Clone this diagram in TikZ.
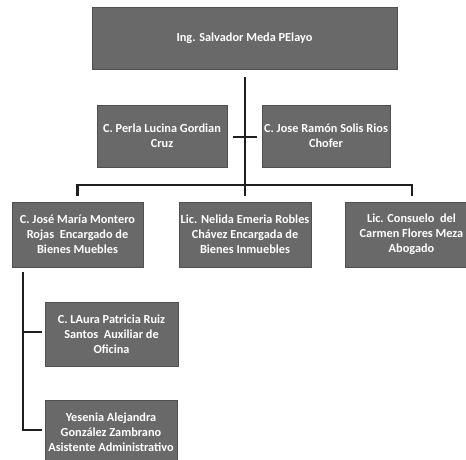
\documentclass[tikz,border=0pt]{standalone}
\usepackage{fontspec}
\setmainfont{Carlito}
\usepackage{tikz}
\definecolor{G}{RGB}{105,105,105}
\definecolor{B}{RGB}{80,80,80}
\definecolor{L}{RGB}{30,30,30}
\tikzset{puesto/.style={draw=B,fill=G,text=white,align=center,inner sep=0pt,
    minimum height=#1,font=\fontsize{12.3}{15}\selectfont\bfseries},
  puesto/.default=63pt,
  linea/.style={draw=L,line width=2.6pt}}
\newcommand{\caja}[6]{\node[puesto=#5,minimum width=#4] (#1) at (#2,#3) {#6};}

\begin{document}
\begin{tikzpicture}[x=1pt,y=-1pt]
\useasboundingbox[fill=white] (0,0) rectangle (466,459);
\caja{dir}{244.5}{38}{305pt}{62pt}{Ing. Salvador Meda PElayo}
\caja{perla}{162}{136}{130pt}{62pt}{C. Perla Lucina Gordian\\Cruz}
\caja{jose}{326}{136}{128pt}{62pt}{C. Jose Ramón Solis Rios\\Chofer}
\caja{montero}{77.5}{234.5}{131pt}{65pt}{C. José María Montero\\Rojas\ \ Encargado de\\Bienes Muebles}
\caja{nelida}{245}{234.5}{132pt}{65pt}{Lic. Nelida Emeria Robles\\Chávez Encargada de\\Bienes Inmuebles}
\caja{consuelo}{411.5}{234.5}{133pt}{65pt}{Lic. Consuelo\ \ del\\Carmen Flores Meza\\Abogado}
\caja{laura}{111.5}{334}{133pt}{64pt}{C. LAura Patricia Ruiz\\Santos\ \ Auxiliar de\\Oficina}
\caja{yesenia}{111}{432.5}{132pt}{65pt}{Yesenia Alejandra\\González Zambrano\\Asistente Administrativo}
% tronco
\coordinate (t1) at (245,77);
\coordinate (bus) at (245,185);
\coordinate (bl) at (77.5,185);
\coordinate (br) at (412,185);
\coordinate (cl) at (233,137);
\coordinate (cr) at (257,137);
\coordinate (v1) at (23,272);
\coordinate (v2) at (23,332);
\coordinate (v3) at (23,430);
\draw[linea] (t1)--(bus);
\draw[linea] (cl)--(cr);
\draw[linea,line cap=rect] (bl)--(br);
\draw[linea] (bl)--++(0,11);
\draw[linea] (bus)--++(0,11);
\draw[linea] (br)--++(0,11);
\draw[linea,shorten >=3pt] (v1)--(v3)--(v3-|yesenia.west);
\draw[linea,shorten >=3pt] (v2)--(v2-|laura.west);
\end{tikzpicture}
\end{document}
